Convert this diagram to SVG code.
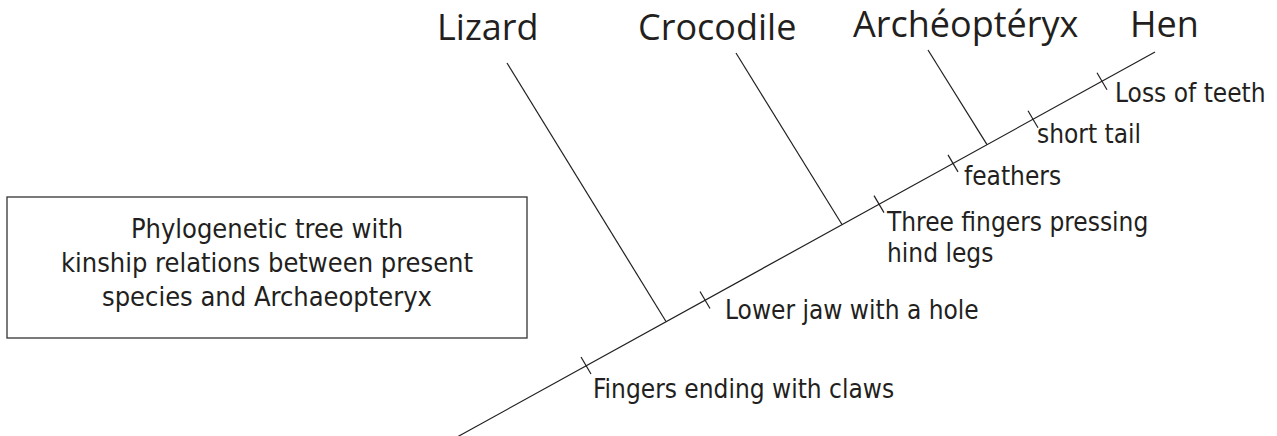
<svg xmlns="http://www.w3.org/2000/svg" width="1277" height="436" viewBox="0 0 1277 436">
<style>
.big{font-family:"Open Sans","Noto Sans",sans-serif;font-size:36px;fill:#231f20}
.sm{font-family:"DejaVu Sans Condensed","DejaVu Sans",sans-serif;font-stretch:condensed;font-size:26px;fill:#231f20}
.cap{font-size:27px}
.ln{stroke:#231f20;stroke-width:1.2;fill:none}
</style>
<rect width="1277" height="436" fill="#fff"/>
<g id="connectors">
<line class="ln" x1="458" y1="436.5" x2="1155" y2="52"/>
<line class="ln" x1="507" y1="63" x2="666" y2="321.5"/>
<line class="ln" x1="736" y1="53" x2="842" y2="224.5"/>
<line class="ln" x1="928" y1="50" x2="987" y2="144.6"/>
</g>
<g id="ticks">
<line class="ln" x1="581" y1="357" x2="591" y2="374"/>
<line class="ln" x1="700" y1="291.5" x2="710" y2="308.5"/>
<line class="ln" x1="874" y1="195.6" x2="884" y2="212.6"/>
<line class="ln" x1="948" y1="154.9" x2="958" y2="171.9"/>
<line class="ln" x1="1028" y1="110.8" x2="1038" y2="127.8"/>
<line class="ln" x1="1097" y1="72.8" x2="1107" y2="89.8"/>
</g>
<g id="lizard"><text class="big" x="437" y="40">Lizard</text></g>
<g id="crocodile"><text class="big" x="638" y="40">Crocodile</text></g>
<g id="archeopteryx"><text class="big" x="853" y="37">Archéoptéryx</text></g>
<g id="hen"><text class="big" x="1130" y="37">Hen</text></g>
<g id="trait-claws"><text class="sm" x="593" y="398">Fingers ending with claws</text></g>
<g id="trait-jaw"><text class="sm" x="725" y="319">Lower jaw with a hole</text></g>
<g id="trait-fingers"><text class="sm" x="887" y="231">Three fingers pressing</text><text class="sm" x="887" y="262">hind legs</text></g>
<g id="trait-feathers"><text class="sm" x="964" y="185">feathers</text></g>
<g id="trait-tail"><text class="sm" x="1037" y="143">short tail</text></g>
<g id="trait-teeth"><text class="sm" x="1115" y="102">Loss of teeth</text></g>
<g id="caption">
<rect x="7" y="197" width="520" height="141" fill="none" stroke="#333" stroke-width="1.3"/>
<text class="sm cap" text-anchor="middle" x="267" y="238">Phylogenetic tree with</text>
<text class="sm cap" text-anchor="middle" x="267" y="272">kinship relations between present</text>
<text class="sm cap" text-anchor="middle" x="267" y="306">species and Archaeopteryx</text>
</g>
</svg>
